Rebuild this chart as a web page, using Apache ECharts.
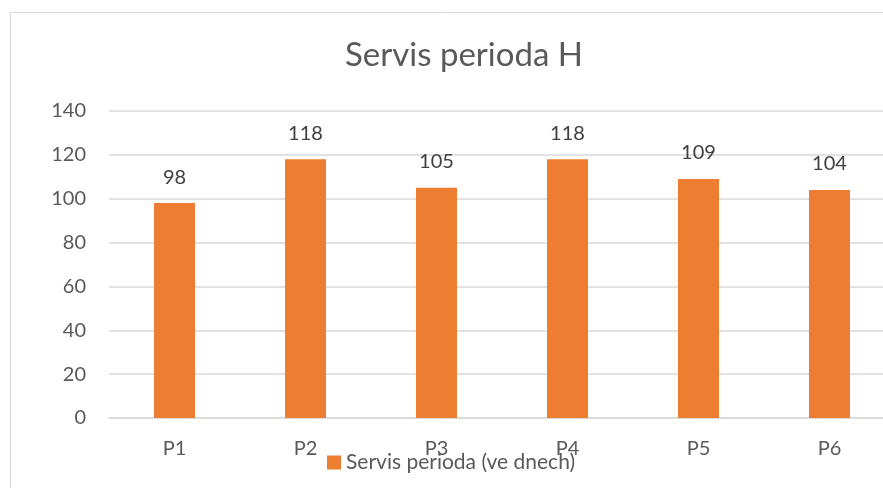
<!DOCTYPE html>
<html>
<head>
<meta charset="utf-8">
<script src="https://cdn.jsdelivr.net/npm/echarts@6/dist/echarts.min.js"></script>
<style>
  html, body { margin: 0; padding: 0; background: #fff; }
  #chart { width: 883px; height: 488px; }
</style>
</head>
<body>
<div id="chart"></div>
<script>
var categories = ['P1', 'P2', 'P3', 'P4', 'P5', 'P6'];
var values = [98, 118, 105, 118, 109, 104];
var seriesName = 'Servis perioda (ve dnech)';
var chartTitle = 'Servis perioda H';

var font = 'Lato, "Open Sans", sans-serif';
var textColor = '#595959';

var chart = echarts.init(document.getElementById('chart'));

chart.setOption({
    backgroundColor: '#fff',
    animation: false,
    title: {
        text: chartTitle,
        left: 459,
        textAlign: 'center',
        top: 34,
        textStyle: { color: textColor, fontSize: 33, fontWeight: 'normal', fontFamily: font }
    },
    graphic: [{
        type: 'rect',
        shape: { x: 10.5, y: 12.5, width: 1000, height: 1000 },
        style: { fill: 'none', stroke: '#d9d9d9', lineWidth: 1 },
        silent: true
    }],
    legend: {
        data: [seriesName],
        left: 322,
        top: 447,
        itemWidth: 14,
        itemHeight: 14,
        itemGap: 6,
        icon: 'rect',
        textStyle: { color: textColor, fontSize: 21, fontFamily: font }
    },
    grid: {
        left: 109,
        width: 786,
        top: 111,
        bottom: 70,
        outerBoundsMode: 'none',
        containLabel: false
    },
    xAxis: {
        type: 'category',
        data: categories,
        axisTick: { show: false },
        axisLine: { lineStyle: { color: '#d9d9d9', width: 1.5 } },
        axisLabel: { color: textColor, fontSize: 20, fontFamily: font, margin: 21 }
    },
    yAxis: {
        type: 'value',
        min: 0,
        max: 140,
        interval: 20,
        axisLine: { show: false },
        axisTick: { show: false },
        splitLine: { lineStyle: { color: '#d9d9d9', width: 1.5 } },
        axisLabel: { color: textColor, fontSize: 20, fontFamily: font, margin: 23 }
    },
    series: [{
        name: seriesName,
        type: 'bar',
        data: values,
        barWidth: 41,
        itemStyle: { color: '#ED7D31' },
        label: {
            show: true,
            position: 'top',
            distance: 16,
            color: '#404040',
            fontSize: 20,
            fontFamily: font
        }
    }]
});
</script>
</body>
</html>
